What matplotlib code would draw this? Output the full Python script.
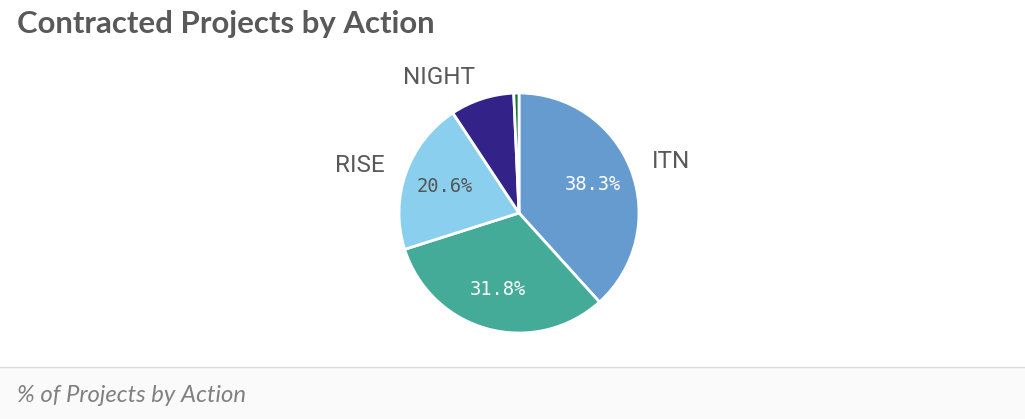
import matplotlib
matplotlib.use("Agg")
import matplotlib.pyplot as plt
from matplotlib.patches import Rectangle

# slices, clockwise from 12 o'clock
actions = ["ITN", "COFUND", "RISE", "NIGHT", "SE"]
shares = [38.3, 31.8, 20.6, 8.6, 0.7]
show_label = [True, False, True, True, False]
show_pct = [True, True, True, False, False]
colors = ["#659bce", "#44ab98", "#8bcfee", "#332288", "#117733"]
pct_colors = ["white", "white", "#555555", "white", "white"]

title = "Contracted Projects by Action"
footer = "% of Projects by Action"

W, H = 1025, 419
fig = plt.figure(figsize=(W / 100, H / 100), dpi=100)
fig.patch.set_facecolor("white")

# footer strip
fig.patches.append(Rectangle((0, 0), 1, 52 / H, transform=fig.transFigure,
                             facecolor="#fafafa", edgecolor="none", zorder=0))
fig.add_artist(plt.Line2D([0, 1], [52 / H, 52 / H], transform=fig.transFigure,
                          color="#dcdcdc", linewidth=1))

fig.text(17 / W, 1 - 24 / H, title, fontsize=22.4, fontweight="bold",
         color="#595959", family="Lato", va="center", ha="left")
fig.text(17 / W, 24 / H, footer, fontsize=17.2, fontstyle="italic",
         color="#808080", family="Lato", va="center", ha="left")

# pie axes: centre (519, 213) px, radius 120 px
cx, cy, r = 519, H - 213, 120
ax = fig.add_axes([(cx - r) / W, (cy - r) / H, 2 * r / W, 2 * r / H])
labels = [a if s else "" for a, s in zip(actions, show_label)]
wedges, texts, autotexts = ax.pie(
    shares, labels=labels, colors=colors, startangle=90, counterclock=False,
    labeldistance=1.19, pctdistance=0.66, autopct="%.1f%%",
    wedgeprops=dict(edgecolor="white", linewidth=2),
    textprops=dict(fontsize=17.5, color="#595959", family="Roboto"),
)
for t, shown, c in zip(autotexts, show_pct, pct_colors):
    t.set_visible(shown)
    t.set_color(c)
    t.set_fontsize(13.5)
    t.set_family("DejaVu Sans Mono")
ax.set_xlim(-1, 1)
ax.set_ylim(-1, 1)
ax.axis("off")

fig.savefig("out.png", dpi=100)
